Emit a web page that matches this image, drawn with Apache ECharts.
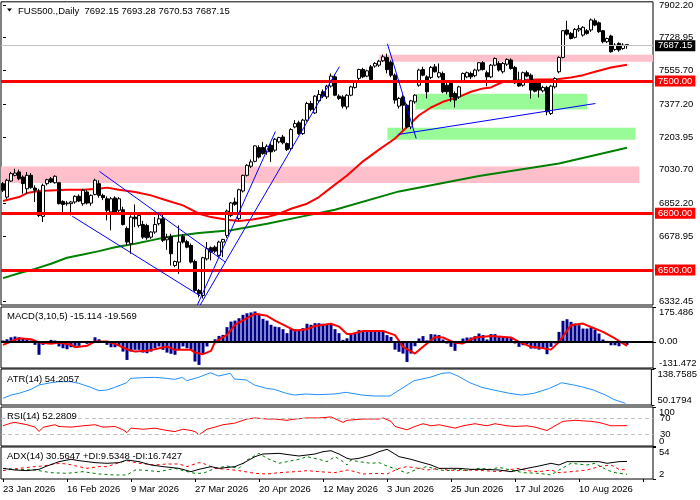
<!DOCTYPE html>
<html><head><meta charset="utf-8">
<script src="https://cdn.jsdelivr.net/npm/echarts@6/dist/echarts.min.js"></script>
<style>html,body{margin:0;padding:0;background:#fff}#c{width:700px;height:500px}</style>
</head><body><div id="c"></div><script>
// ---------- DATA ----------
const SLOTS = 163; // bar slots incl. right shift
const xTickLabels = ['23 Jan 2026','16 Feb 2026','9 Mar 2026','27 Mar 2026','20 Apr 2026','12 May 2026','3 Jun 2026','25 Jun 2026','17 Jul 2026','10 Aug 2026'];
const xTickEvery = 16;
// candles: [open, high, low, close]
const candles = [
[6957,6966,6913,6922],[6886,6983,6877,6975],[6971,7019,6966,7010],[7001,7036,6996,7013],[7019,7031,6975,6983],
[6992,7001,6904,6957],[6930,7019,6904,7001],[7001,7013,6930,6936],[6934,6948,6860,6922],[6913,6930,6780,6789],
[6784,6957,6754,6948],[6957,6983,6948,6978],[6983,6992,6960,6966],[6962,7001,6957,6996],[6962,6966,6847,6851],
[6863,6869,6807,6847],[6851,6865,6840,6854],[6851,6865,6789,6860],[6860,6895,6851,6890],[6890,6900,6860,6865],
[6851,6930,6840,6922],[6913,6922,6847,6854],[6854,6900,6840,6895],[6900,6983,6895,6975],[6957,6975,6883,6895],
[6895,6904,6870,6883],[6877,6890,6763,6816],[6807,6886,6710,6877],[6881,6890,6800,6807],[6816,6886,6800,6877],
[6819,6835,6736,6741],[6720,6730,6630,6648],[6639,6790,6586,6780],[6780,6847,6727,6771],[6736,6800,6725,6789],
[6741,6760,6665,6674],[6736,6745,6660,6671],[6674,6705,6665,6701],[6701,6780,6692,6741],[6745,6807,6736,6771],
[6771,6807,6648,6657],[6660,6692,6607,6671],[6678,6692,6524,6586],[6524,6550,6515,6545],[6542,6736,6480,6648],
[6678,6690,6640,6648],[6650,6660,6615,6621],[6630,6640,6535,6542],[6545,6555,6385,6392],[6392,6400,6355,6374],
[6365,6570,6350,6565],[6559,6648,6550,6613],[6618,6625,6551,6595],[6621,6630,6590,6600],[6577,6655,6570,6648],
[6648,6665,6568,6662],[6683,6820,6670,6812],[6789,6860,6780,6855],[6860,6883,6840,6848],[6772,6930,6765,6925],
[6918,7005,6910,7001],[7001,7060,6995,7054],[7049,7085,7040,7072],[7075,7160,7070,7157],[7148,7160,7090,7098],
[7148,7178,7110,7116],[7125,7165,7110,7155],[7160,7170,7072,7125],[7134,7198,7125,7192],[7178,7205,7170,7201],
[7204,7215,7165,7173],[7169,7175,7130,7137],[7143,7250,7135,7243],[7257,7293,7250,7275],[7279,7290,7215,7222],
[7222,7300,7215,7293],[7293,7390,7285,7381],[7381,7395,7340,7349],[7331,7425,7325,7420],[7395,7452,7390,7429],
[7443,7455,7410,7420],[7416,7480,7405,7473],[7473,7540,7465,7526],[7522,7535,7420,7425],[7420,7430,7400,7408],
[7416,7425,7355,7367],[7363,7430,7350,7425],[7425,7475,7420,7469],[7466,7500,7460,7496],[7514,7565,7505,7561],
[7561,7570,7515,7522],[7526,7560,7520,7554],[7575,7585,7500,7508],[7579,7600,7570,7593],[7584,7612,7575,7605],
[7607,7640,7600,7628],[7625,7645,7540,7560],[7600,7610,7520,7531],[7531,7540,7380,7399],[7367,7415,7355,7408],
[7416,7425,7243,7372],[7372,7380,7250,7257],[7257,7400,7245,7395],[7390,7430,7380,7425],[7478,7565,7470,7558],
[7561,7575,7525,7531],[7522,7530,7408,7443],[7519,7580,7510,7572],[7575,7590,7545,7549],[7522,7593,7515,7544],
[7540,7550,7435,7443],[7478,7490,7430,7443],[7487,7495,7390,7416],[7434,7445,7360,7399],[7416,7475,7405,7469],
[7496,7545,7490,7540],[7522,7550,7515,7544],[7540,7550,7510,7522],[7528,7565,7520,7558],[7558,7600,7550,7597],
[7597,7605,7555,7561],[7544,7555,7472,7522],[7522,7590,7515,7584],[7584,7625,7578,7619],[7593,7605,7550,7558],
[7549,7600,7540,7593],[7589,7620,7580,7614],[7611,7620,7560,7566],[7572,7580,7485,7490],[7487,7549,7469,7474],
[7478,7550,7470,7544],[7544,7555,7520,7526],[7531,7540,7407,7452],[7490,7500,7440,7446],[7490,7500,7413,7452],
[7448,7475,7440,7466],[7466,7475,7319,7337],[7328,7480,7320,7473],[7469,7520,7460,7513],[7549,7630,7540,7625],
[7625,7770,7620,7766],[7770,7819,7740,7748],[7752,7760,7720,7725],[7731,7780,7725,7773],[7770,7796,7760,7778],
[7743,7790,7735,7784],[7766,7775,7745,7752],[7770,7831,7760,7823],[7819,7831,7790,7796],[7808,7815,7755,7761],
[7766,7770,7700,7708],[7708,7730,7700,7725],[7738,7745,7650,7655],[7667,7700,7660,7690],[7699,7705,7655,7664],
[7672,7700,7665,7690],[7692.15,7693.28,7670.53,7687.15]
];
const priceTicks = [6332.45,6678.95,6852.20,7030.70,7203.95,7377.20,7555.70,7728.95,7902.20];
const levels = [7500, 6800, 6500];
const bidPrice = 7687.15;
// moving averages [barIndex, value]
const maRed = [[0,6865],[4,6886],[6,6907],[9,6918],[16,6925],[20,6925],[24,6930],[26,6936],[29,6925],[33,6913],[37,6895],[41,6868],[45,6842],[49,6798],[52,6780],[56,6766],[59,6759],[62,6766],[66,6780],[69,6798],[72,6824],[76,6851],[79,6886],[82,6936],[86,7000],[90,7075],[94,7137],[98,7196],[101,7257],[104,7319],[107,7360],[110,7390],[114,7416],[117,7443],[120,7461],[122,7466],[125,7496],[130,7505],[134,7508],[138,7508],[142,7519],[145,7531],[148,7549],[152,7572],[156,7586]];
const maGreen = [[0,6457],[4,6483],[8,6506],[12,6533],[16,6565],[20,6582],[24,6600],[28,6621],[33,6639],[37,6657],[41,6675],[49,6696],[57,6710],[66,6745],[74,6780],[83,6819],[99,6916],[119,6998],[139,7064],[156,7147]];
// drawn trend lines [[i1,p1],[i2,p2]]
const trendLines = [
 [[24.1,7022],[55.6,6542]],
 [[17.3,6785],[49.3,6363]],
 [[48.6,6315],[68.1,7233]],
 [[49.3,6315],[84.1,7576]],
 [[96.1,7697],[103.3,7196]],
 [[98.8,7217],[148.1,7381]]
];
// zones [i1, i2, pLow, pHigh, color]
const zones = [
 [94.1,162.5,7602,7639,'#FFC0CB'],
 [-0.5,159.1,6960,7048,'#FFC0CB'],
 [103.1,146,7349,7432,'#98FB98'],
 [96.1,158.1,7189,7253,'#98FB98']
];
const macdHist = [7,13,23,27,23,18,18,7,-15,-65,
-15,-3,10,7,-23,-32,-37,-27,-20,-20,
-3,-10,-3,23,13,2,-15,-27,-27,-20,
-49,-91,-49,-40,-40,-54,-57,-49,-32,-23,
-40,-54,-60,-65,-37,-23,-32,-40,-99,-116,
-57,-23,2,13,30,35,74,102,107,119,
136,144,148,153,141,116,107,86,77,74,
64,44,64,64,57,69,91,86,94,94,
91,86,91,64,44,10,18,39,42,59,
50,55,55,59,54,50,34,25,-39,-50,
-59,-101,-59,-22,17,29,8,39,37,34,
12,-8,-25,-45,-8,17,22,22,29,42,
34,12,39,39,25,25,25,22,-8,-25,
-17,-13,-34,-34,-39,-34,-62,-25,-8,50,
106,114,101,92,84,67,67,72,62,42,
12,5,-17,-17,-22,-8,-15.114];
const macdSignal = [[0,-15],[2,2],[4,18],[7,13],[9,-3],[12,-10],[14,-3],[17,-15],[18,-27],[21,-20],[23,2],[26,2],[28,-10],[31,-37],[33,-49],[36,-45],[38,-37],[41,-23],[43,-40],[47,-40],[48,-54],[50,-62],[52,-45],[53,0],[56,35],[58,86],[61,119],[63,141],[66,131],[68,107],[71,77],[73,57],[76,64],[78,80],[82,91],[84,77],[86,40],[87,39],[90,55],[95,55],[98,34],[100,-25],[103,-59],[105,-25],[108,25],[110,22],[113,-5],[115,-8],[118,22],[122,29],[127,22],[129,0],[132,-25],[134,-29],[137,-39],[139,0],[142,84],[145,92],[147,75],[150,50],[153,17],[155,-8],[156,-19.569]];
const macdTicks = [-131.472, 0, 175.486];
const atr = [[0,66.5],[2,74.7],[4,78.8],[7,88.7],[9,99.4],[12,105],[14,107.6],[17,107.6],[19,103.5],[22,93.6],[24,85.4],[26,87],[28,93.6],[31,105],[32,115.8],[35,117.4],[38,118.2],[41,115.8],[43,113.3],[45,118.2],[46,110],[49,118.2],[52,129.7],[54,121.5],[57,128],[58,114.1],[61,111.7],[63,99.4],[66,91.2],[68,88.7],[71,78.8],[73,74.7],[76,77.2],[79,75.6],[83,77.2],[86,81.3],[90,74.7],[93,72.3],[97,72.3],[100,91.2],[103,110],[107,118.2],[110,128],[112,129.7],[114,121.5],[117,105],[120,93.6],[123,87],[127,78.8],[130,74.7],[133,78.8],[137,91.2],[140,105],[143,99.4],[145,95.2],[148,87],[151,74.7],[153,64.1],[156,54.2057]];
const atrTicks = [50.1794, 138.7585];
const rsi = [[0,51.8],[2,58.8],[3,60.5],[6,54.5],[8,48.4],[9,37],[10,48],[13,54.5],[14,50],[17,48.4],[20,51.8],[23,54.5],[25,48.4],[28,50],[30,41.4],[31,34.4],[32,45.8],[35,43],[38,45.8],[41,39.7],[43,37],[45,43],[47,39.7],[48,37],[49,28.4],[51,43.1],[53,48.4],[55,54.5],[58,58.8],[61,69.2],[63,71.9],[66,69.2],[68,69.2],[71,65.8],[73,69.2],[76,71.9],[79,71.9],[82,74.5],[85,60.5],[86,65.8],[90,69.2],[94,69.2],[95,71.9],[97,63.2],[98,50.1],[101,41.4],[103,50.1],[105,57.1],[107,51.8],[109,54.5],[113,45.8],[115,51.8],[118,57.1],[121,51.8],[123,57.1],[126,51.8],[128,50.1],[131,51.8],[133,48.4],[136,39.7],[138,51.8],[140,63.2],[143,65.8],[147,63.2],[149,60.5],[152,51.8],[156,52.2809]];
const rsiTicks = [0, 100];
const rsiLevels = [30, 70];
const adx = [[0,19.3],[3,16.6],[6,15.6],[9,17.7],[11,23.1],[14,30.2],[17,34],[19,31.8],[23,28.6],[26,27.5],[29,28.6],[31,32.9],[34,30.2],[37,24.8],[40,22.1],[44,19.3],[47,13.9],[49,17.7],[52,22.1],[54,19.3],[58,22.1],[60,27.5],[63,38.3],[65,42.6],[69,43.7],[72,41],[74,39.4],[78,42.6],[80,46.4],[82,48],[84,42.6],[86,35.6],[87,34],[89,35.6],[92,41],[94,46.4],[96,50.2],[97,46.4],[99,38.3],[102,34],[104,30.2],[107,24.8],[109,19.3],[112,19.3],[114,19.3],[117,17.7],[120,17.7],[124,16.6],[127,13.9],[129,16.6],[131,19.3],[134,23.1],[137,27.5],[139,24.8],[141,30.2],[144,30.2],[149,30.2],[151,27.5],[154,30.2],[156,30.5647]];
const plusDI = [[0,19],[4,17.7],[8,16.6],[12,12.3],[16,11.2],[20,13.9],[24,10.1],[28,8.5],[31,8.5],[33,16.6],[35,16.6],[39,13.9],[43,19.3],[45,15.6],[48,11.2],[50,11.2],[53,19.3],[56,23.1],[59,19.3],[61,32.9],[64,43.7],[66,35.6],[69,27.5],[71,30.2],[74,34],[76,38.3],[79,34],[81,30.2],[83,38.3],[85,30.2],[86,24.8],[87,32.9],[89,30.2],[92,27.5],[94,28.6],[96,23.1],[99,16.6],[101,11.2],[104,19.3],[106,22.1],[109,16.6],[111,15.6],[114,17.7],[116,15.6],[119,19.3],[122,17.7],[124,20.9],[127,16.6],[130,12.3],[134,11.2],[137,8.5],[139,16.6],[142,27.5],[146,24.8],[148,27.5],[151,16.6],[153,12.3],[156,9.5348]];
const minusDI = [[0,15.6],[4,19.3],[8,22.1],[10,23.1],[14,27.5],[16,26.4],[19,22.1],[21,19.3],[24,22.1],[26,22.1],[29,28.6],[31,31.8],[34,27.5],[38,24.8],[41,26.4],[44,26.4],[46,22.1],[49,28.6],[50,27.5],[53,19.3],[56,17.7],[59,15.6],[63,11.2],[66,10.1],[69,12.3],[73,13.9],[76,15.6],[79,13.9],[83,12.3],[86,16.6],[87,15.6],[90,10.1],[94,11.2],[96,10.1],[99,19.3],[101,22.1],[104,19.3],[106,16.6],[109,19.3],[111,16.6],[114,15.6],[117,16.6],[120,15.6],[124,13.9],[126,16.6],[129,19.3],[131,15.6],[134,13.9],[137,16.6],[139,12.3],[142,13.9],[146,16.6],[149,22.1],[152,24.8],[154,17.7],[156,16.7427]];
const adxTicks = [2, 54];
const headerText = 'FUS500.,Daily  7692.15 7693.28 7670.53 7687.15';
const panelTitles = ['MACD(3,10,5) -15.114 -19.569','ATR(14) 54.2057','RSI(14) 52.2809','ADX(14) 30.5647 +DI:9.5348 -DI:16.7427'];

// ---------- CHART ----------
const FONT = 'Liberation Sans';
const FS = 9.5;
const cats = Array.from({length: SLOTS}, (_, i) => String(i));
const chart = echarts.init(document.getElementById('c'), null, {renderer:'canvas'});
const gridDefs = [[1,304],[307,61],[369,36],[407,39],[447,32]];
const grids = gridDefs.map(([t,h]) => ({left:1, top:t, width:652, height:h, show:true, borderColor:'#000', borderWidth:1, backgroundColor:'#fff'}));
const xAxes = gridDefs.map((_, g) => ({
  type:'category', gridIndex:g, data:cats, boundaryGap:true,
  axisLine:{show:false}, splitLine:{show:false},
  axisTick: g===4 ? {show:true, interval:xTickEvery-1, alignWithLabel:true, length:3, lineStyle:{color:'#000'}} : {show:false},
  axisLabel: g===4 ? {show:true, interval:xTickEvery-1, align:'left', margin:5, fontSize:FS, color:'#000', fontFamily:FONT,
     formatter:(v, idx) => (idx % xTickEvery === 0 && xTickLabels[idx/xTickEvery]) ? xTickLabels[idx/xTickEvery] : ''} : {show:false}
}));
xAxes.push({type:'value', gridIndex:0, min:-0.5, max:SLOTS-0.5, show:false});
function yAx(g, min, max, ticks, fmt, inset) {
  const lab = {customValues:ticks, formatter:fmt, fontSize:FS, color:'#000', fontFamily:FONT, margin:6,
      showMinLabel:true, showMaxLabel:true, hideOverlap:false};
  if (inset) { lab.verticalAlignMaxLabel = 'top'; lab.verticalAlignMinLabel = 'bottom'; }
  return {type:'value', gridIndex:g, position:'right', min, max,
    splitLine:{show:false}, axisLine:{show:false},
    axisTick:{show:true, length:3, customValues:ticks, lineStyle:{color:'#000'}},
    axisLabel:lab};
}
const yAxes = [
  yAx(0, 6315, 7919, priceTicks, v => v.toFixed(2), false),
  yAx(1, macdTicks[0], macdTicks[2], macdTicks, v => v === 0 ? '0.00' : v.toFixed(3), true),
  yAx(2, atrTicks[0], atrTicks[1], atrTicks, v => v.toFixed(4), true),
  yAx(3, 0, 100, rsiTicks, v => String(v), true),
  yAx(4, adxTicks[0], adxTicks[1], adxTicks, v => String(v), true)
];

const lvlLabel = (bg) => ({show:true, position:'end', distance:2, formatter:p => p.value.toFixed(2),
  color:'#fff', backgroundColor:bg, padding:[1,3,0,3], fontSize:FS, fontFamily:FONT});

const series = [];
// zones
series.push({type:'line', xAxisIndex:5, yAxisIndex:0, data:[[0,7000]], symbol:'none', lineStyle:{opacity:0}, z:1, silent:true,
  markArea:{silent:true, data: zones.map(z => [{coord:[z[0], z[2]], itemStyle:{color:z[4]}}, {coord:[z[1], z[3]]}])}});
// MAs
series.push({type:'line', xAxisIndex:5, yAxisIndex:0, data:maGreen, symbol:'none', lineStyle:{color:'#008000', width:2}, z:3, silent:true});
series.push({type:'line', xAxisIndex:5, yAxisIndex:0, data:maRed, symbol:'none', lineStyle:{color:'#FF0000', width:2}, z:3, silent:true});
// candles
series.push({type:'candlestick', xAxisIndex:0, yAxisIndex:0, barWidth:3,
  data: candles.map(r => [r[0], r[3], r[2], r[1]]),
  itemStyle:{color:'#fff', color0:'#000', borderColor:'#000', borderColor0:'#000', borderWidth:1}, z:4, silent:true,
  markLine:{silent:true, symbol:'none', animation:false,
    data: levels.map(v => ({yAxis:v, lineStyle:{color:'#FF0000', width:3, type:'solid'}, label:lvlLabel('#FF0000')}))
      .concat([{yAxis:bidPrice, lineStyle:{color:'#C0C0C0', width:1, type:'solid'}, label:lvlLabel('#000')}])}});
// trend lines
trendLines.forEach(t => series.push({type:'line', xAxisIndex:5, yAxisIndex:0, data:t, symbol:'none',
  lineStyle:{color:'#0000FF', width:1}, z:5, silent:true}));
// MACD
series.push({type:'bar', xAxisIndex:1, yAxisIndex:1, data:macdHist, barWidth:3, itemStyle:{color:'#00008B'}, silent:true,
  markLine:{silent:true, symbol:'none', label:{show:false}, data:[{yAxis:0}], lineStyle:{color:'#000', width:2, type:'solid'}}});
series.push({type:'line', xAxisIndex:1, yAxisIndex:1, data:macdSignal, symbol:'none', lineStyle:{color:'#FF0000', width:2}, z:3, silent:true});
// ATR
series.push({type:'line', xAxisIndex:2, yAxisIndex:2, data:atr, symbol:'none', lineStyle:{color:'#1E90FF', width:1}, silent:true});
// RSI
series.push({type:'line', xAxisIndex:3, yAxisIndex:3, data:rsi, symbol:'none', lineStyle:{color:'#FF0000', width:1}, silent:true,
  markLine:{silent:true, symbol:'none', label:{show:false},
    data: rsiLevels.map(v => ({yAxis:v})), lineStyle:{color:'#C0C0C0', width:1, type:[4,3]}}});
// ADX
series.push({type:'line', xAxisIndex:4, yAxisIndex:4, data:plusDI, symbol:'none', lineStyle:{color:'#008000', width:1, type:[3,3]}, silent:true});
series.push({type:'line', xAxisIndex:4, yAxisIndex:4, data:minusDI, symbol:'none', lineStyle:{color:'#FF0000', width:1, type:[3,3]}, silent:true});
series.push({type:'line', xAxisIndex:4, yAxisIndex:4, data:adx, symbol:'none', lineStyle:{color:'#000', width:1}, silent:true});

const titleY = [316.5, 379, 416.5, 456];
const graphic = [
  {type:'polygon', shape:{points:[[7,8.5],[12,8.5],[9.5,11.5]]}, style:{fill:'#000'}, z:100},
  {type:'text', x:18, y:11, style:{text:headerText, fontSize:FS, fontFamily:FONT, fill:'#000', verticalAlign:'middle'}, z:100}
].concat(panelTitles.map((t, k) => ({type:'text', x:7, y:titleY[k], style:{text:t, fontSize:FS, fontFamily:FONT, fill:'#000', verticalAlign:'middle'}, z:100})));

chart.setOption({animation:false, backgroundColor:'#fff', grid:grids, xAxis:xAxes, yAxis:yAxes, series, graphic});
// RSI level labels placed through the RSI axis scale
const lvlGraphics = rsiLevels.map(v => ({type:'text', x:660, y:chart.convertToPixel({yAxisIndex:3}, v),
  style:{text:String(v), fontSize:FS, fontFamily:FONT, fill:'#000', verticalAlign:'middle'}, z:100}));
chart.setOption({graphic: graphic.concat(lvlGraphics)});
</script></body></html>
